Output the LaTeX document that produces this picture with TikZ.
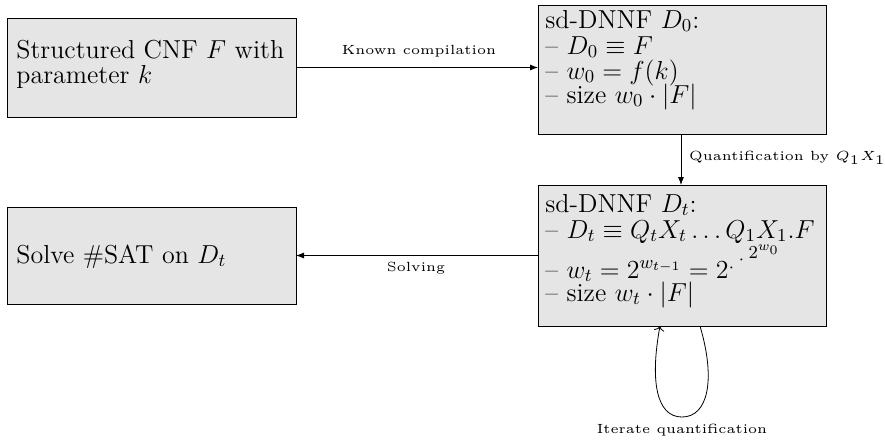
\documentclass[tikz,border=0pt]{standalone}
\usepackage{fix-cm}
\usepackage{amsmath,amssymb}
\usetikzlibrary{arrows.meta}
\newcommand{\tower}{2\raisebox{2.7pt}{\makebox[3pt]{$\scriptstyle\cdot$}}\raisebox{6.7pt}{\makebox[7pt]{$\scriptstyle\cdot$}}\raisebox{10pt}{$\scriptstyle 2^{w_0}$}}
\begin{document}
\begin{tikzpicture}[x=0.5pt,y=-0.5pt,
  box/.style={draw,fill=gray!20,inner sep=0pt,outer sep=0pt,anchor=north west},
  ln/.style={anchor=base west,inner sep=0pt,font=\fontsize{13}{15}\selectfont},
  lab/.style={font=\tiny,inner sep=1pt,scale=1.33},
  arr/.style={-{Latex[length=4pt,width=3pt]}}]
\useasboundingbox (0,0) rectangle (885,441);
% boxes
\node[box,minimum width=289pt*0.5,minimum height=99pt*0.5] (cnf) at (7,18) {};
\node[ln] (cnf1) at (16,58) {Structured CNF $F$ with};
\node[ln] (cnf2) at (16,83) {parameter $k$};
\node[box,minimum width=288pt*0.5,minimum height=129pt*0.5] (d0) at (538,5) {};
\node[ln] (d01) at (545,28) {sd-DNNF $D_0$:};
\node[ln] (d02) at (545,54) {-- $D_0\equiv F$};
\node[ln] (d03) at (545,79) {-- $w_0=f(k)$};
\node[ln] (d04) at (545,103) {-- size $w_0\cdot|F|$};
\node[box,minimum width=288pt*0.5,minimum height=141pt*0.5] (dt) at (538,185) {};
\node[ln] (dt1) at (545,212) {sd-DNNF $D_t$:};
\node[ln] (dt2) at (545,238) {-- $D_t\equiv Q_tX_t\ldots Q_1X_1.F$};
\node[ln] (dt3) at (545,278) {-- $w_t=2^{w_{t-1}}=\tower$};
\node[ln] (dt4) at (545,301) {-- size $w_t\cdot|F|$};
\node[box,minimum width=289pt*0.5,minimum height=97pt*0.5] (sol) at (7,207) {};
\node[ln] (solt) at (16,263) {Solve \#SAT on $D_t$};
% connectors
\draw[arr] (cnf.east) -- (d0.west |- cnf.east);
\node[lab] (l1) at (419,51) {Known compilation};
\coordinate (d0b) at (681,134);
\draw[arr] (d0.south -| d0b) -- (dt.north -| d0b);
\node[lab,anchor=west] (l2) at (686,158) {Quantification by $Q_1X_1$};
\draw[arr] (dt.west |- sol.east) -- (sol.east);
\node[lab] (l3) at (416,268) {Solving};
\coordinate (ls) at (700,326);
\coordinate (le) at (660,326);
\draw[->] (dt.south -| ls) .. controls (716,380) and (708,417) .. (682,417)
  .. controls (656,417) and (650,380) .. (dt.south -| le);
\node[lab] (iter) at (682,430) {Iterate quantification};
\end{tikzpicture}
\end{document}
